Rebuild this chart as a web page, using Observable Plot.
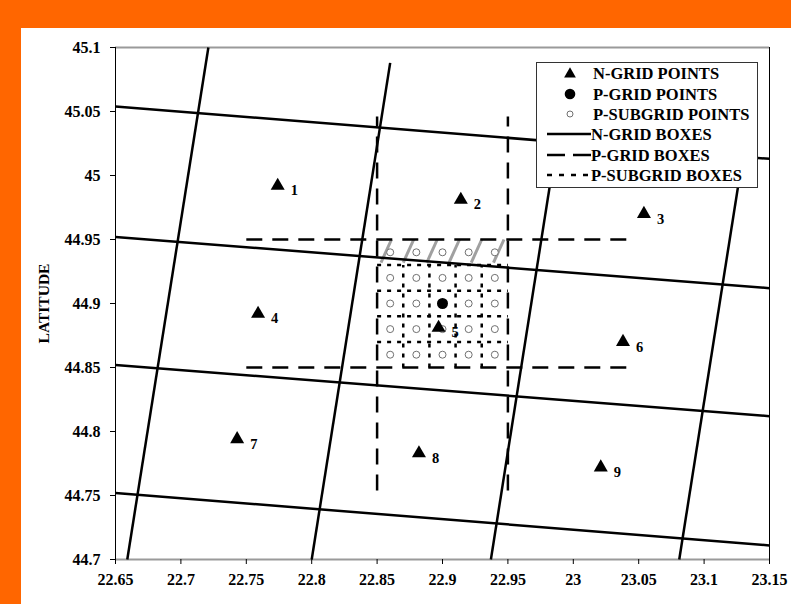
<!DOCTYPE html>
<html><head><meta charset="utf-8">
<script src="https://cdn.jsdelivr.net/npm/d3@7"></script>
<script src="https://cdn.jsdelivr.net/npm/@observablehq/plot@0.6"></script>
<style>
html,body{margin:0;padding:0;background:#ff6600;width:791px;height:604px;overflow:hidden}
#panel{position:absolute;left:21px;top:28px;width:770px;height:576px;background:#fff}
#legend{position:absolute;left:515px;top:34px;}
svg text{font-family:"Liberation Serif","Times New Roman",serif;font-weight:bold}
</style></head><body><div id="panel"></div>
<script>
// ---- data ----
const xTicks = [22.65, 22.7, 22.75, 22.8, 22.85, 22.9, 22.95, 23, 23.05, 23.1, 23.15];
const yTicks = [44.7, 44.75, 44.8, 44.85, 44.9, 44.95, 45, 45.05, 45.1];

// N-grid points (triangles)
const nPtLabel = ["1","2","3","4","5","6","7","8","9"];
const nPtLon = [22.774, 22.914, 23.054, 22.759, 22.897, 23.038, 22.743, 22.882, 23.021];
const nPtLat = [44.992, 44.981, 44.970, 44.892, 44.881, 44.870, 44.794, 44.783, 44.772];

// P-grid point
const pPtLon = [22.90];
const pPtLat = [44.90];

// P-subgrid points
const subLon = [22.86, 22.88, 22.90, 22.92, 22.94];
const subLat = [44.86, 44.88, 44.90, 44.92, 44.94];

// N-grid boxes: west-east lines (lat at west edge / east edge)
const nRowLonW = 22.65, nRowLonE = 23.15;
const nRowLatW = [45.054, 44.952, 44.852, 44.752];
const nRowLatE = [45.013, 44.912, 44.812, 44.711];
// N-grid boxes: south-north lines
const nColLonS = [22.659, 22.800, 22.937, 23.081];
const nColLatS = [44.7, 44.7, 44.7, 44.7];
const nColLonN = [22.721, 22.860, 22.991, 23.135];
const nColLatN = [45.1, 45.088, 45.05, 45.05];

// P-grid boxes (long dashes)
const pColLon = [22.85, 22.95];
const pColLatRange = [44.754, 45.046];
const pRowLat = [44.95, 44.85];
const pRowLonRange = [22.75, 23.045];

// P-subgrid boxes (short dashes)
const subColLon = [22.87, 22.89, 22.91, 22.93];
const subColLatRange = [44.85, 44.93];
const subRowLat = [44.87, 44.89, 44.91, 44.93];
const subRowLonRange = [22.85, 22.95];

// grey hatch strokes across the top sub-row
const hatchLon = [22.853, 22.870, 22.888, 22.905, 22.922, 22.939];
const hatchLat = [44.932, 44.950];
const hatchLean = 0.008;

// legend
const legendLabels = ["N-GRID POINTS","P-GRID POINTS","P-SUBGRID POINTS","N-GRID BOXES","P-GRID BOXES","P-SUBGRID BOXES"];

// ---- build tables ----
const nPts = nPtLabel.map((l,i)=>({label:l, lon:nPtLon[i], lat:nPtLat[i]}));
const pPts = pPtLon.map((v,i)=>({lon:v, lat:pPtLat[i]}));
const subPts = subLat.flatMap(la => subLon.map(lo => ({lon:lo, lat:la})));
const nRows = nRowLatW.map((v,i)=>({x1:nRowLonW, y1:v, x2:nRowLonE, y2:nRowLatE[i]}));
const nCols = nColLonS.map((v,i)=>({x1:v, y1:nColLatS[i], x2:nColLonN[i], y2:nColLatN[i]}));
const pCols = pColLon.map(v=>({x1:v, y1:pColLatRange[0], x2:v, y2:pColLatRange[1]}));
const pRows = pRowLat.map(v=>({x1:pRowLonRange[0], y1:v, x2:pRowLonRange[1], y2:v}));
const sCols = subColLon.map(v=>({x1:v, y1:subColLatRange[0], x2:v, y2:subColLatRange[1]}));
const sRows = subRowLat.map(v=>({x1:subRowLonRange[0], y1:v, x2:subRowLonRange[1], y2:v}));
const hatches = hatchLon.map(v=>({x1:v, y1:hatchLat[0], x2:v+hatchLean, y2:hatchLat[1]}));
const L = {x1:"x1", y1:"y1", x2:"x2", y2:"y2"};
const fmt = d => String(d);

const chart = Plot.plot({
  width: 770, height: 576,
  marginLeft: 94, marginRight: 22, marginTop: 19, marginBottom: 45,
  x: {domain: [22.65, 23.15]},
  y: {domain: [44.7, 45.1]},
  style: {background: "transparent", fontFamily: "'Liberation Serif', serif", fontSize: "16px", fontWeight: "bold", color: "#000"},
  marks: [
    Plot.ruleY([44.7, 45.1], {stroke: "#9a9a9a", strokeWidth: 2}),
    Plot.ruleX([22.65, 23.15], {stroke: "#000", strokeWidth: 1}),
    Plot.axisX(xTicks, {tickSize: 5, tickPadding: 9, tickFormat: fmt, label: null, fontSize: 16}),
    Plot.axisY(yTicks, {tickSize: 5, tickPadding: 10, tickFormat: fmt, label: null, fontSize: 16}),
    Plot.text(["LATITUDE"], {frameAnchor: "left", dx: -71, rotate: -90, textAnchor: "middle", fontSize: 15.5, fontWeight: "bold"}),
    Plot.link(hatches, {...L, stroke: "#a0a0a0", strokeWidth: 3}),
    Plot.link(sCols, {...L, stroke: "#000", strokeWidth: 2.5, strokeDasharray: "4,6"}),
    Plot.link(sRows, {...L, stroke: "#000", strokeWidth: 2.5, strokeDasharray: "4,6"}),
    Plot.link(pCols, {...L, stroke: "#000", strokeWidth: 2.5, strokeDasharray: "16,10"}),
    Plot.link(pRows, {...L, stroke: "#000", strokeWidth: 2.5, strokeDasharray: "16,10"}),
    Plot.link(nRows, {...L, stroke: "#000", strokeWidth: 2.5}),
    Plot.link(nCols, {...L, stroke: "#000", strokeWidth: 2.5}),
    Plot.dot(subPts, {x: "lon", y: "lat", r: 3.5, fill: "#fff", stroke: "#707070", strokeWidth: 1}),
    Plot.dot(pPts, {x: "lon", y: "lat", r: 5.5, fill: "#000", stroke: "none"}),
    Plot.dot(nPts, {x: "lon", y: "lat", symbol: "triangle", r: 5.2, fill: "#000", stroke: "none"}),
    Plot.text(nPts, {x: "lon", y: "lat", text: "label", dx: 13, dy: 5, textAnchor: "start", fontSize: 14.5, fontWeight: "bold"})
  ]
});
document.getElementById("panel").appendChild(chart);

// ---- legend (drawn as an overlay box inside the plot area) ----
const lg = d3.select("#panel").append("svg").attr("id","legend")
  .attr("width", 222).attr("height", 126);
lg.append("rect").attr("x",0.5).attr("y",0.5).attr("width",221).attr("height",125)
  .attr("fill","#fff").attr("stroke","#333").attr("stroke-width",1);
const rowY = [11, 32, 52, 72, 93, 113];
const g = lg.selectAll("g.row").data(legendLabels).join("g").attr("class","row")
  .attr("transform",(d,i)=>`translate(0,${rowY[i]})`);
g.append("text").attr("x", d => d.includes("BOXES") ? 55 : 57).attr("dy","0.35em")
  .attr("font-size",16.5).attr("font-weight","bold").attr("fill","#000").text(d=>d);
g.each(function(d,i){
  const s = d3.select(this);
  if (i===0) s.append("path").attr("d", d3.symbol(d3.symbolTriangle, 60)()).attr("transform","translate(34,1)").attr("fill","#000");
  if (i===1) s.append("circle").attr("cx",34).attr("r",5.3).attr("fill","#000");
  if (i===2) s.append("circle").attr("cx",34).attr("r",3).attr("fill","#fff").attr("stroke","#707070");
  if (i>=3) s.append("line").attr("x1",11).attr("x2",55).attr("stroke","#000").attr("stroke-width",2.5)
    .attr("stroke-dasharray", i===3 ? null : (i===4 ? "18,8" : "5,7"));
});
</script></body></html>
